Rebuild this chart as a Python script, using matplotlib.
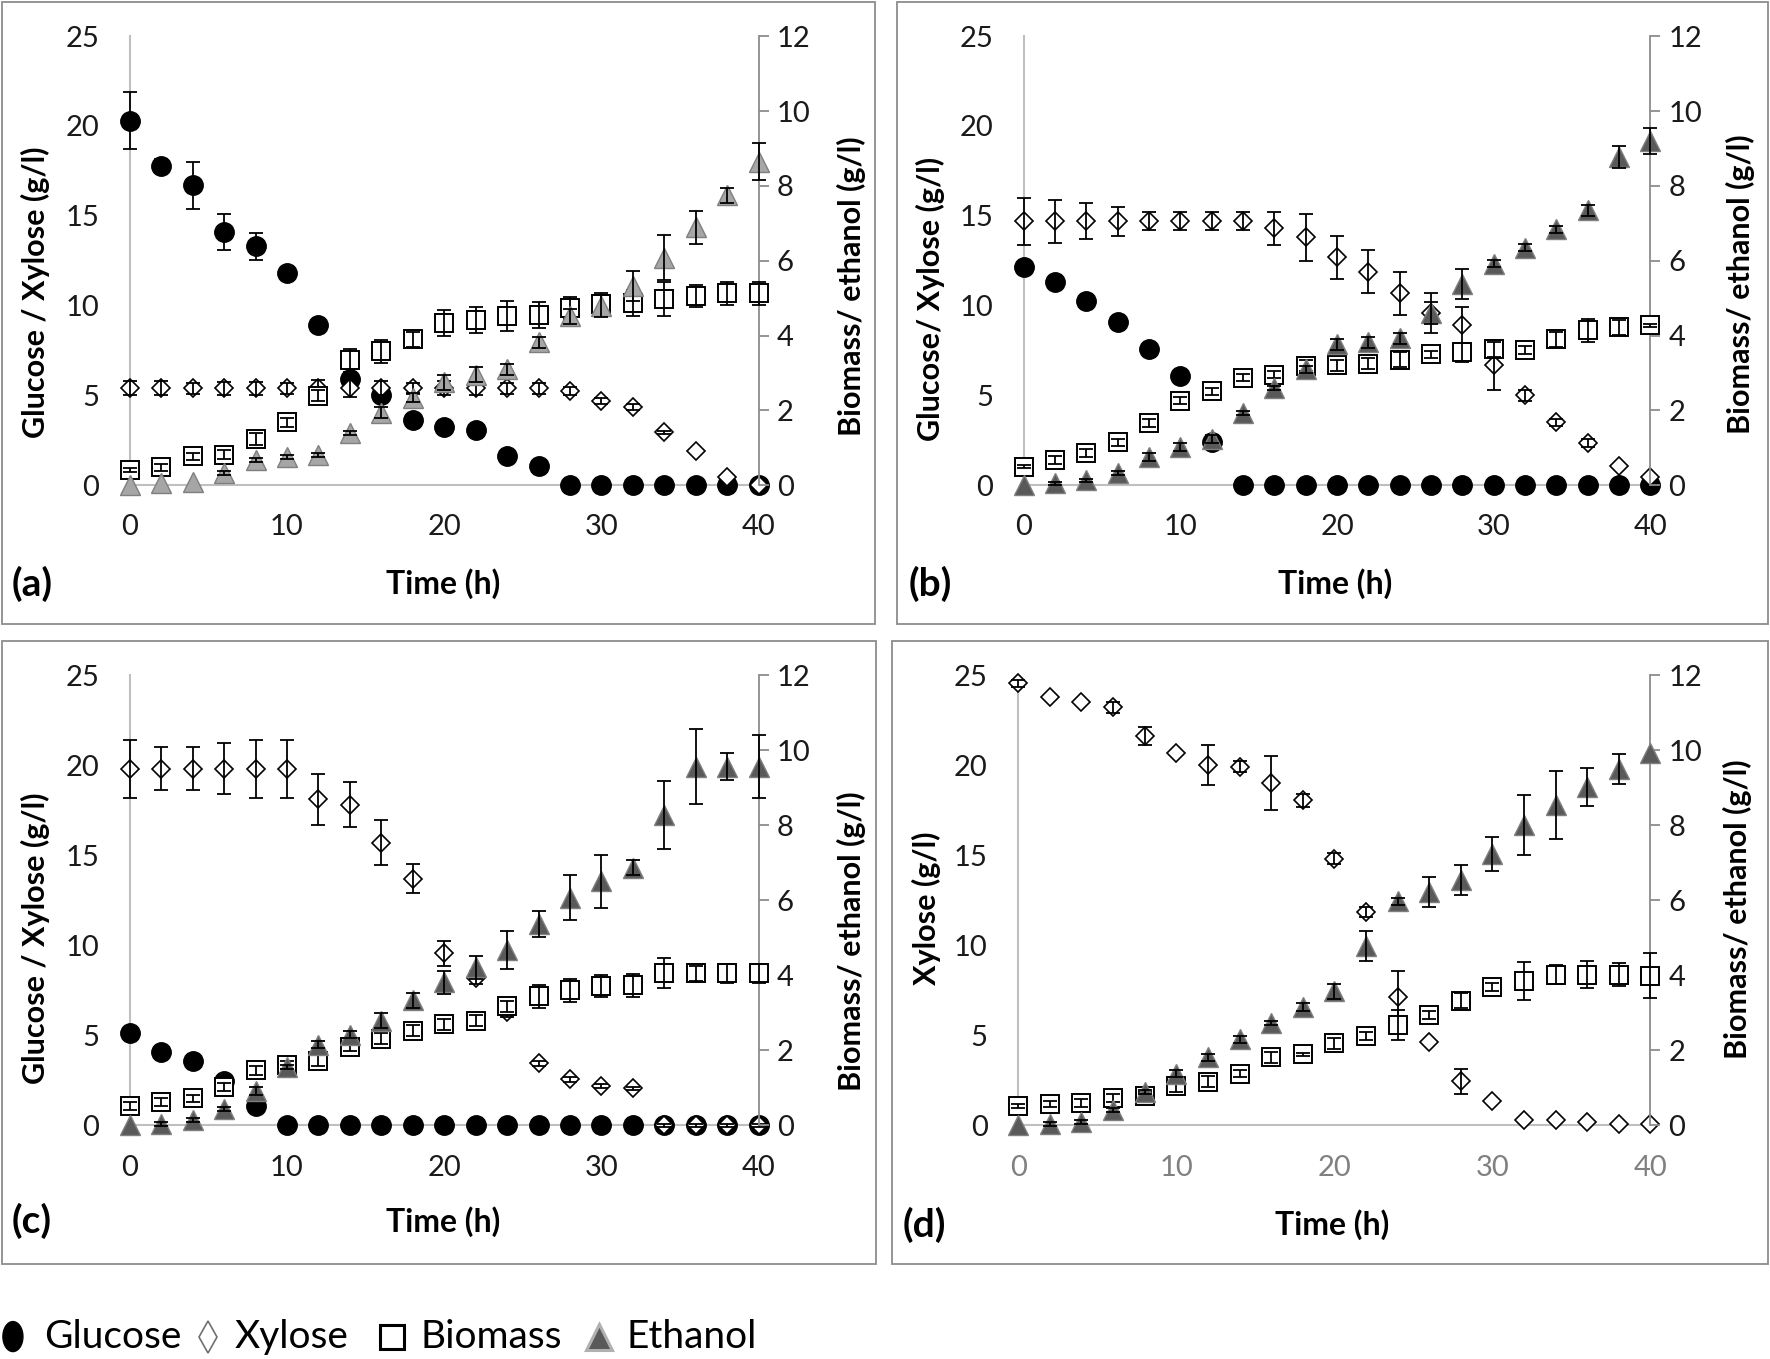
import numpy as np
import matplotlib
matplotlib.use("Agg")
import matplotlib.pyplot as plt
from matplotlib.lines import Line2D
from matplotlib.patches import Rectangle, Ellipse

plt.rcParams['font.family'] = ['Lato', 'DejaVu Sans']

time = np.arange(0, 41, 2)

# panel (a)
glu_a = [20.3, 17.8, 16.7, 14.1, 13.3, 11.8, 8.9, 5.9, 5.0, 3.65, 3.25, 3.1, 1.65, 1.1, 0, 0, 0, 0, 0, 0, 0]
glu_a_err = [1.6, 0.35, 1.3, 1.0, 0.75, 0.3, 0, 0, 0, 0, 0, 0, 0, 0, 0, 0, 0, 0, 0, 0, 0]
xyl_a = [5.4, 5.4, 5.4, 5.4, 5.4, 5.4, 5.4, 5.4, 5.4, 5.4, 5.4, 5.4, 5.4, 5.4, 5.25, 4.7, 4.35, 2.95, 1.9, 0.45, 0.0]
xyl_a_err = [0.4, 0.4, 0.3, 0.35, 0.35, 0.3, 0.45, 0.5, 0.4, 0.3, 0.4, 0.4, 0.3, 0.3, 0.2, 0.15, 0.15, 0.1, 0, 0, 0]
bio_a = [0.40, 0.48, 0.77, 0.81, 1.24, 1.69, 2.39, 3.34, 3.58, 3.9, 4.33, 4.41, 4.52, 4.55, 4.74, 4.84, 4.88, 4.97, 5.06, 5.13, 5.13]
bio_a_err = [0.05, 0.1, 0.1, 0.12, 0.15, 0.12, 0.15, 0.3, 0.3, 0.2, 0.35, 0.35, 0.4, 0.35, 0.3, 0.3, 0.35, 0.45, 0.3, 0.3, 0.3]
eth_a = [0.0, 0.05, 0.1, 0.32, 0.68, 0.75, 0.8, 1.4, 1.94, 2.34, 2.75, 2.96, 3.1, 3.82, 4.52, 4.79, 5.33, 6.08, 6.89, 7.75, 8.65]
eth_a_err = [0, 0, 0, 0.05, 0.05, 0.05, 0.05, 0.05, 0.15, 0.12, 0.2, 0.2, 0.15, 0.15, 0.2, 0.3, 0.4, 0.6, 0.45, 0.2, 0.5]

# panel (b)
glu_b = [12.15, 11.3, 10.25, 9.1, 7.6, 6.1, 2.4, 0, 0, 0, 0, 0, 0, 0, 0, 0, 0, 0, 0, 0, 0]
glu_b_err = [0] * 21
xyl_b = [14.7, 14.7, 14.7, 14.7, 14.7, 14.7, 14.7, 14.7, 14.3, 13.8, 12.7, 11.9, 10.7, 9.6, 8.9, 6.7, 5.0, 3.5, 2.35, 1.1, 0.45]
xyl_b_err = [1.3, 1.2, 1.0, 0.8, 0.5, 0.5, 0.5, 0.5, 0.9, 1.3, 1.2, 1.2, 1.2, 1.1, 1.0, 1.4, 0.3, 0.2, 0.2, 0, 0]
bio_b = [0.5, 0.67, 0.86, 1.15, 1.67, 2.26, 2.51, 2.88, 2.96, 3.2, 3.21, 3.25, 3.36, 3.5, 3.55, 3.63, 3.61, 3.9, 4.14, 4.22, 4.27]
bio_b_err = [0.05, 0.1, 0.1, 0.1, 0.1, 0.1, 0.1, 0.1, 0.1, 0.15, 0.15, 0.15, 0.2, 0.1, 0.25, 0.2, 0.1, 0.2, 0.3, 0.2, 0.05]
eth_b = [0.0, 0.05, 0.13, 0.32, 0.75, 1.02, 1.24, 1.94, 2.6, 3.1, 3.77, 3.82, 3.93, 4.61, 5.38, 5.92, 6.35, 6.84, 7.35, 8.77, 9.2]
eth_b_err = [0, 0.05, 0.05, 0.05, 0.1, 0.1, 0.1, 0.05, 0.05, 0.1, 0.15, 0.15, 0.15, 0.3, 0.4, 0.1, 0.1, 0.1, 0.15, 0.3, 0.35]

# panel (c)
glu_c = [5.15, 4.05, 3.6, 2.45, 1.1, 0, 0, 0, 0, 0, 0, 0, 0, 0, 0, 0, 0, 0, 0, 0, 0]
glu_c_err = [0] * 21
xyl_c = [19.8, 19.8, 19.8, 19.8, 19.8, 19.8, 18.1, 17.8, 15.7, 13.7, 9.55, 8.2, 6.3, 3.45, 2.55, 2.2, 2.05, 0, 0, 0, 0]
xyl_c_err = [1.6, 1.2, 1.2, 1.4, 1.6, 1.6, 1.4, 1.25, 1.25, 0.8, 0.7, 0.35, 0.3, 0.15, 0.15, 0.1, 0.1, 0.1, 0.1, 0.1, 0.1]
bio_c = [0.52, 0.62, 0.72, 1.02, 1.47, 1.61, 1.72, 2.09, 2.31, 2.52, 2.69, 2.79, 3.17, 3.44, 3.6, 3.71, 3.73, 4.05, 4.05, 4.05, 4.05]
bio_c_err = [0.1, 0.1, 0.1, 0.1, 0.12, 0.1, 0.15, 0.12, 0.15, 0.15, 0.15, 0.15, 0.15, 0.3, 0.3, 0.3, 0.3, 0.4, 0.2, 0.25, 0.25]
eth_c = [0.0, 0.03, 0.14, 0.43, 0.91, 1.56, 2.15, 2.42, 2.79, 3.33, 3.81, 4.21, 4.67, 5.37, 6.07, 6.5, 6.87, 8.27, 9.56, 9.56, 9.56]
eth_c_err = [0, 0.05, 0.05, 0.05, 0.1, 0.05, 0.1, 0.1, 0.2, 0.2, 0.3, 0.3, 0.5, 0.35, 0.6, 0.7, 0.2, 0.9, 1.0, 0.35, 0.85]

# panel (d), no glucose
xyl_d = [24.55, 23.8, 23.5, 23.2, 21.6, 20.65, 20.0, 19.9, 19.0, 18.05, 14.8, 11.85, 7.15, 4.65, 2.45, 1.35, 0.3, 0.3, 0.2, 0.07, 0.07]
xyl_d_err = [0.2, 0, 0, 0.3, 0.5, 0, 1.1, 0.3, 1.5, 0.35, 0.3, 0.3, 1.4, 0, 0.7, 0, 0, 0, 0, 0, 0]
bio_d = [0.52, 0.57, 0.6, 0.73, 0.79, 1.05, 1.16, 1.38, 1.81, 1.89, 2.19, 2.38, 2.67, 2.94, 3.32, 3.69, 3.85, 4.02, 4.02, 4.02, 3.99]
bio_d_err = [0.05, 0.08, 0.1, 0.1, 0.1, 0.15, 0.15, 0.1, 0.15, 0.05, 0.15, 0.1, 0.4, 0.1, 0.2, 0.1, 0.5, 0.25, 0.35, 0.3, 0.6]
eth_d = [0.0, 0.03, 0.1, 0.41, 0.89, 1.38, 1.81, 2.29, 2.72, 3.15, 3.58, 4.77, 5.97, 6.22, 6.54, 7.24, 8.0, 8.54, 9.02, 9.5, 9.93]
eth_d_err = [0, 0.05, 0.05, 0.05, 0.05, 0.1, 0.1, 0.1, 0.05, 0.1, 0.2, 0.4, 0.1, 0.4, 0.4, 0.45, 0.8, 0.9, 0.5, 0.4, 0]

legend_labels = ['Glucose', 'Xylose', 'Biomass', 'Ethanol']

fig = plt.figure(figsize=(17.7, 13.59), dpi=100)

TICK_FS = 21
LAB_FS = 22


def errs(ax, x, y, e, z):
    x = np.asarray(x); y = np.asarray(y); e = np.asarray(e)
    m = e > 0
    if m.any():
        ax.errorbar(x[m], y[m], yerr=e[m], fmt='none', ecolor='black', elinewidth=1.3,
                    capsize=5, capthick=1.3, zorder=z, clip_on=False)


def panel(pos, glu, glu_e, xyl, xyl_e, bio, bio_e, eth, eth_e, ylab, eth_col,
          lab_x, lab_y, rlab_x, rlab_y, xtick_col='#1a1a1a'):
    ax = fig.add_axes(pos)
    ax2 = ax.twinx()
    ax.set_xlim(0, 40)
    ax.set_ylim(0, 25)
    ax2.set_ylim(0, 12)
    ax.set_xticks([0, 10, 20, 30, 40])
    ax.set_yticks([0, 5, 10, 15, 20, 25])
    ax2.set_yticks([0, 2, 4, 6, 8, 10, 12])

    for s in ['top', 'right']:
        ax.spines[s].set_visible(False)
    ax.spines['left'].set_color('#bfbfbf')
    ax.spines['bottom'].set_color('#bfbfbf')
    ax.spines['left'].set_linewidth(1.5)
    ax.spines['bottom'].set_linewidth(1.5)
    for s in ['top', 'left', 'bottom']:
        ax2.spines[s].set_visible(False)
    ax2.spines['right'].set_color('#8c8c8c')
    ax2.spines['right'].set_linewidth(1.3)

    ax.tick_params(axis='both', length=0, labelsize=TICK_FS)
    ax.tick_params(axis='x', pad=21, labelcolor=xtick_col)
    ax.tick_params(axis='y', pad=22, labelcolor='#1a1a1a')
    ax2.tick_params(axis='y', direction='out', length=7, width=1.3, color='#8c8c8c',
                    labelsize=TICK_FS, pad=6, labelcolor='#1a1a1a')

    if glu is not None:
        ax.plot(time, glu, 'o', ms=14, mfc='black', mec='black', clip_on=False, zorder=3)
        errs(ax, time, glu, glu_e, 3.1)
    ax.plot(time, xyl, 'D', ms=9, mfc='white', mec='black', mew=1.2, clip_on=False, zorder=4)
    errs(ax, time, xyl, xyl_e, 4.1)
    ax2.plot(time, bio, 's', ms=13, mfc='white', mec='black', mew=1.4, clip_on=False, zorder=3)
    errs(ax2, time, bio, bio_e, 3.1)
    ax2.plot(time, eth, '^', ms=15, mfc=eth_col, mec='#7f7f7f', mew=1.0, clip_on=False, zorder=4)
    errs(ax2, time, eth, eth_e, 4.1)

    ax.set_ylabel(ylab, fontsize=LAB_FS, fontweight='bold')
    ax.yaxis.set_label_coords(lab_x, lab_y)
    ax2.set_ylabel('Biomass/ ethanol (g/l)', fontsize=LAB_FS, fontweight='bold')
    ax2.yaxis.set_label_coords(rlab_x, rlab_y)
    return ax


panel([0.0733, 0.6429, 0.3553, 0.3305], glu_a, glu_a_err, xyl_a, xyl_a_err, bio_a, bio_a_err,
      eth_a, eth_a_err, 'Glucose / Xylose (g/l)', '#a6a6a6', -0.127, 0.43, 1.124, 0.443)
panel([0.5784, 0.6429, 0.3540, 0.3305], glu_b, glu_b_err, xyl_b, xyl_b_err, bio_b, bio_b_err,
      eth_b, eth_b_err, 'Glucose/ Xylose (g/l)', '#595959', -0.125, 0.415, 1.12, 0.447)
panel([0.0733, 0.1719, 0.3553, 0.3314], glu_c, glu_c_err, xyl_c, xyl_c_err, bio_c, bio_c_err,
      eth_c, eth_c_err, 'Glucose / Xylose (g/l)', '#595959', -0.127, 0.416, 1.124, 0.41)
panel([0.5753, 0.1719, 0.3571, 0.3314], None, None, xyl_d, xyl_d_err, bio_d, bio_d_err,
      eth_d, eth_d_err, 'Xylose (g/l)', '#595959', -0.123, 0.483, 1.115, 0.48,
      xtick_col='#808080')

# panel frames
for (x0, y0, w, h) in [(0.0013, 0.5407, 0.4930, 0.4576), (0.5070, 0.5407, 0.4917, 0.4576),
                       (0.0013, 0.0698, 0.4937, 0.4584), (0.5038, 0.0698, 0.4949, 0.4584)]:
    fig.add_artist(Rectangle((x0, y0), w, h, transform=fig.transFigure, fill=False,
                             edgecolor='#8c8c8c', linewidth=1.3))

# x labels and panel letters
for (tx, ty, lx, ly, let) in [(0.2506, 0.5706, 0.0064, 0.5706, '(a)'),
                              (0.7545, 0.5706, 0.5134, 0.5706, '(b)'),
                              (0.2506, 0.1013, 0.0064, 0.1013, '(c)'),
                              (0.7526, 0.0988, 0.5100, 0.0988, '(d)')]:
    fig.text(tx, ty, 'Time (h)', fontsize=23, fontweight='bold', ha='center', va='center')
    fig.text(lx, ly, let, fontsize=28, fontweight='bold', ha='left', va='center')

# legend drawn by hand to keep the tight Excel spacing
ly = 0.0165
fig.add_artist(Ellipse((0.0073, ly), 20 / 1770, 30 / 1359, transform=fig.transFigure,
                       facecolor='black', edgecolor='black'))
fig.add_artist(Line2D([0.1175], [ly], transform=fig.transFigure, marker='d', ms=16,
                      mfc='white', mec='#707070', mew=1.2, ls='none'))
fig.add_artist(Line2D([0.2215], [ly], transform=fig.transFigure, marker='s', ms=17,
                      mfc='white', mec='black', mew=2.2, ls='none'))
fig.add_artist(Line2D([0.3384], [ly], transform=fig.transFigure, marker='^', ms=19,
                      mfc='#595959', mec='#b0b0b0', mew=2.2, ls='none'))
for x, lab in zip([0.0249, 0.1328, 0.2373, 0.3542], legend_labels):
    fig.text(x, ly, lab, fontsize=28, ha='left', va='center')

fig.savefig('out.png', dpi=100)
